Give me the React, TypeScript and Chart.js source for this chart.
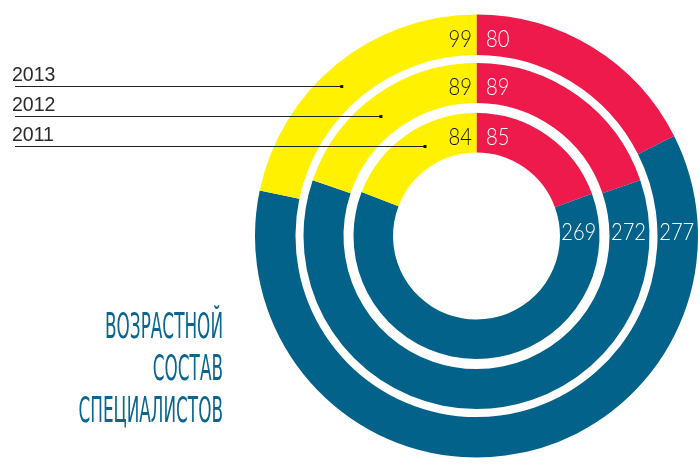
import React, { useEffect, useRef } from "react";
import { Chart, registerables } from "chart.js";

Chart.register(...registerables);

const years = ["2013", "2012", "2011"];
const groups = ["Группа 1", "Группа 2", "Группа 3"];
const values2013 = [80, 277, 99];
const values2012 = [89, 272, 89];
const values2011 = [85, 269, 84];
const titleLines = ["ВОЗРАСТНОЙ", "СОСТАВ", "СПЕЦИАЛИСТОВ"];

const RED = "#EE1A4B";
const BLUE = "#03628A";
const YELLOW = "#FFF100";
const TITLE_BLUE = "#0A6690";

const NUM_FONT = '300 24px Lato, "Open Sans", Roboto, sans-serif';
const NUM_SX = 0.84;

function drawNum(
  ctx: CanvasRenderingContext2D,
  text: string,
  x: number,
  y: number,
  align: CanvasTextAlign,
  color: string
) {
  ctx.save();
  ctx.translate(x, y);
  ctx.scale(NUM_SX, 1);
  ctx.font = NUM_FONT;
  ctx.textBaseline = "alphabetic";
  ctx.textAlign = align;
  ctx.fillStyle = color;
  ctx.fillText(text, 0, 0);
  ctx.restore();
}

const overlay = {
  id: "overlay",
  afterDatasetsDraw(chart: any) {
    const ctx: CanvasRenderingContext2D = chart.ctx;
    const ringIdx = [0, 2, 4];
    const lineY = [86.5, 116.5, 146.5];
    ctx.save();
    ringIdx.forEach((di, k) => {
      const meta = chart.getDatasetMeta(di);
      const a0 = meta.data[0];
      const { x: cx, y: cy, innerRadius, outerRadius } = a0.getProps(
        ["x", "y", "innerRadius", "outerRadius"],
        true
      );
      const rm = (innerRadius + outerRadius) / 2;
      const vals = chart.data.datasets[di].data;

      drawNum(ctx, String(vals[0]), cx + 9.5, cy - rm + 12.5, "left", "#ffffff");
      drawNum(ctx, String(vals[2]), cx - 4.5, cy - rm + 12.5, "right", "#111111");
      drawNum(ctx, String(vals[1]), cx + rm - 1, cy + 3.5, "center", "#ffffff");

      // leader line legend
      const ly = lineY[k];
      const dy = cy - ly;
      const dotX = cx - Math.sqrt(Math.max(rm * rm - dy * dy, 0));
      ctx.strokeStyle = "#222222";
      ctx.lineWidth = 1;
      ctx.beginPath();
      ctx.moveTo(15, ly);
      ctx.lineTo(dotX, ly);
      ctx.stroke();
      ctx.fillStyle = "#111111";
      ctx.fillRect(dotX - 1.5, ly - 1.5, 3, 3);
      ctx.font = '19.5px "Liberation Sans", Arial, sans-serif';
      ctx.textAlign = "left";
      ctx.textBaseline = "alphabetic";
      ctx.fillStyle = "#2a2a2a";
      ctx.fillText(chart.data.datasets[di].label, 12, ly - 5.5);
    });

    // title
    ctx.font = '36px "Liberation Sans Narrow", "DejaVu Sans Condensed", sans-serif';
    const w0 = ctx.measureText(titleLines[0]).width;
    const sx = 118 / w0;
    ctx.fillStyle = TITLE_BLUE;
    ctx.textAlign = "right";
    ctx.textBaseline = "alphabetic";
    titleLines.forEach((t, i) => {
      ctx.save();
      ctx.translate(223, 338 + i * 42);
      ctx.scale(sx, 1);
      ctx.fillText(t, 0, 0);
      ctx.restore();
    });
    ctx.restore();
  },
};

export default function App() {
  const ref = useRef<HTMLCanvasElement | null>(null);
  useEffect(() => {
    if (!ref.current) return;
    const colors = [RED, BLUE, YELLOW];
    const ring = (label: string, data: number[], weight: number) => ({
      label,
      data,
      weight,
      backgroundColor: colors,
      borderWidth: 0,
      hoverBorderWidth: 0,
      hoverOffset: 0,
    });
    const gap = (weight: number) => ({
      label: "",
      data: [1],
      weight,
      backgroundColor: ["rgba(0,0,0,0)"],
      borderWidth: 0,
      hoverBorderWidth: 0,
      hoverOffset: 0,
    });
    const chart = new Chart(ref.current, {
      type: "doughnut",
      data: {
        labels: groups,
        datasets: [
          ring(years[0], values2013, 40.5),
          gap(8),
          ring(years[1], values2012, 40),
          gap(10),
          ring(years[2], values2011, 39.5),
        ] as any,
      },
      options: {
        responsive: false,
        animation: false,
        cutout: "37.7%",
        events: [],
        layout: { padding: { left: 255, right: 2, top: 14.5, bottom: 9.5 } },
        plugins: {
          legend: { display: false },
          tooltip: { enabled: false },
        },
      } as any,
      plugins: [overlay],
    });
    return () => chart.destroy();
  }, []);
  return (
    <div style={{ position: "absolute", left: 0, top: 0, width: 700, height: 467, background: "#fff" }}>
      <canvas ref={ref} width={700} height={467} style={{ display: "block" }} />
    </div>
  );
}
